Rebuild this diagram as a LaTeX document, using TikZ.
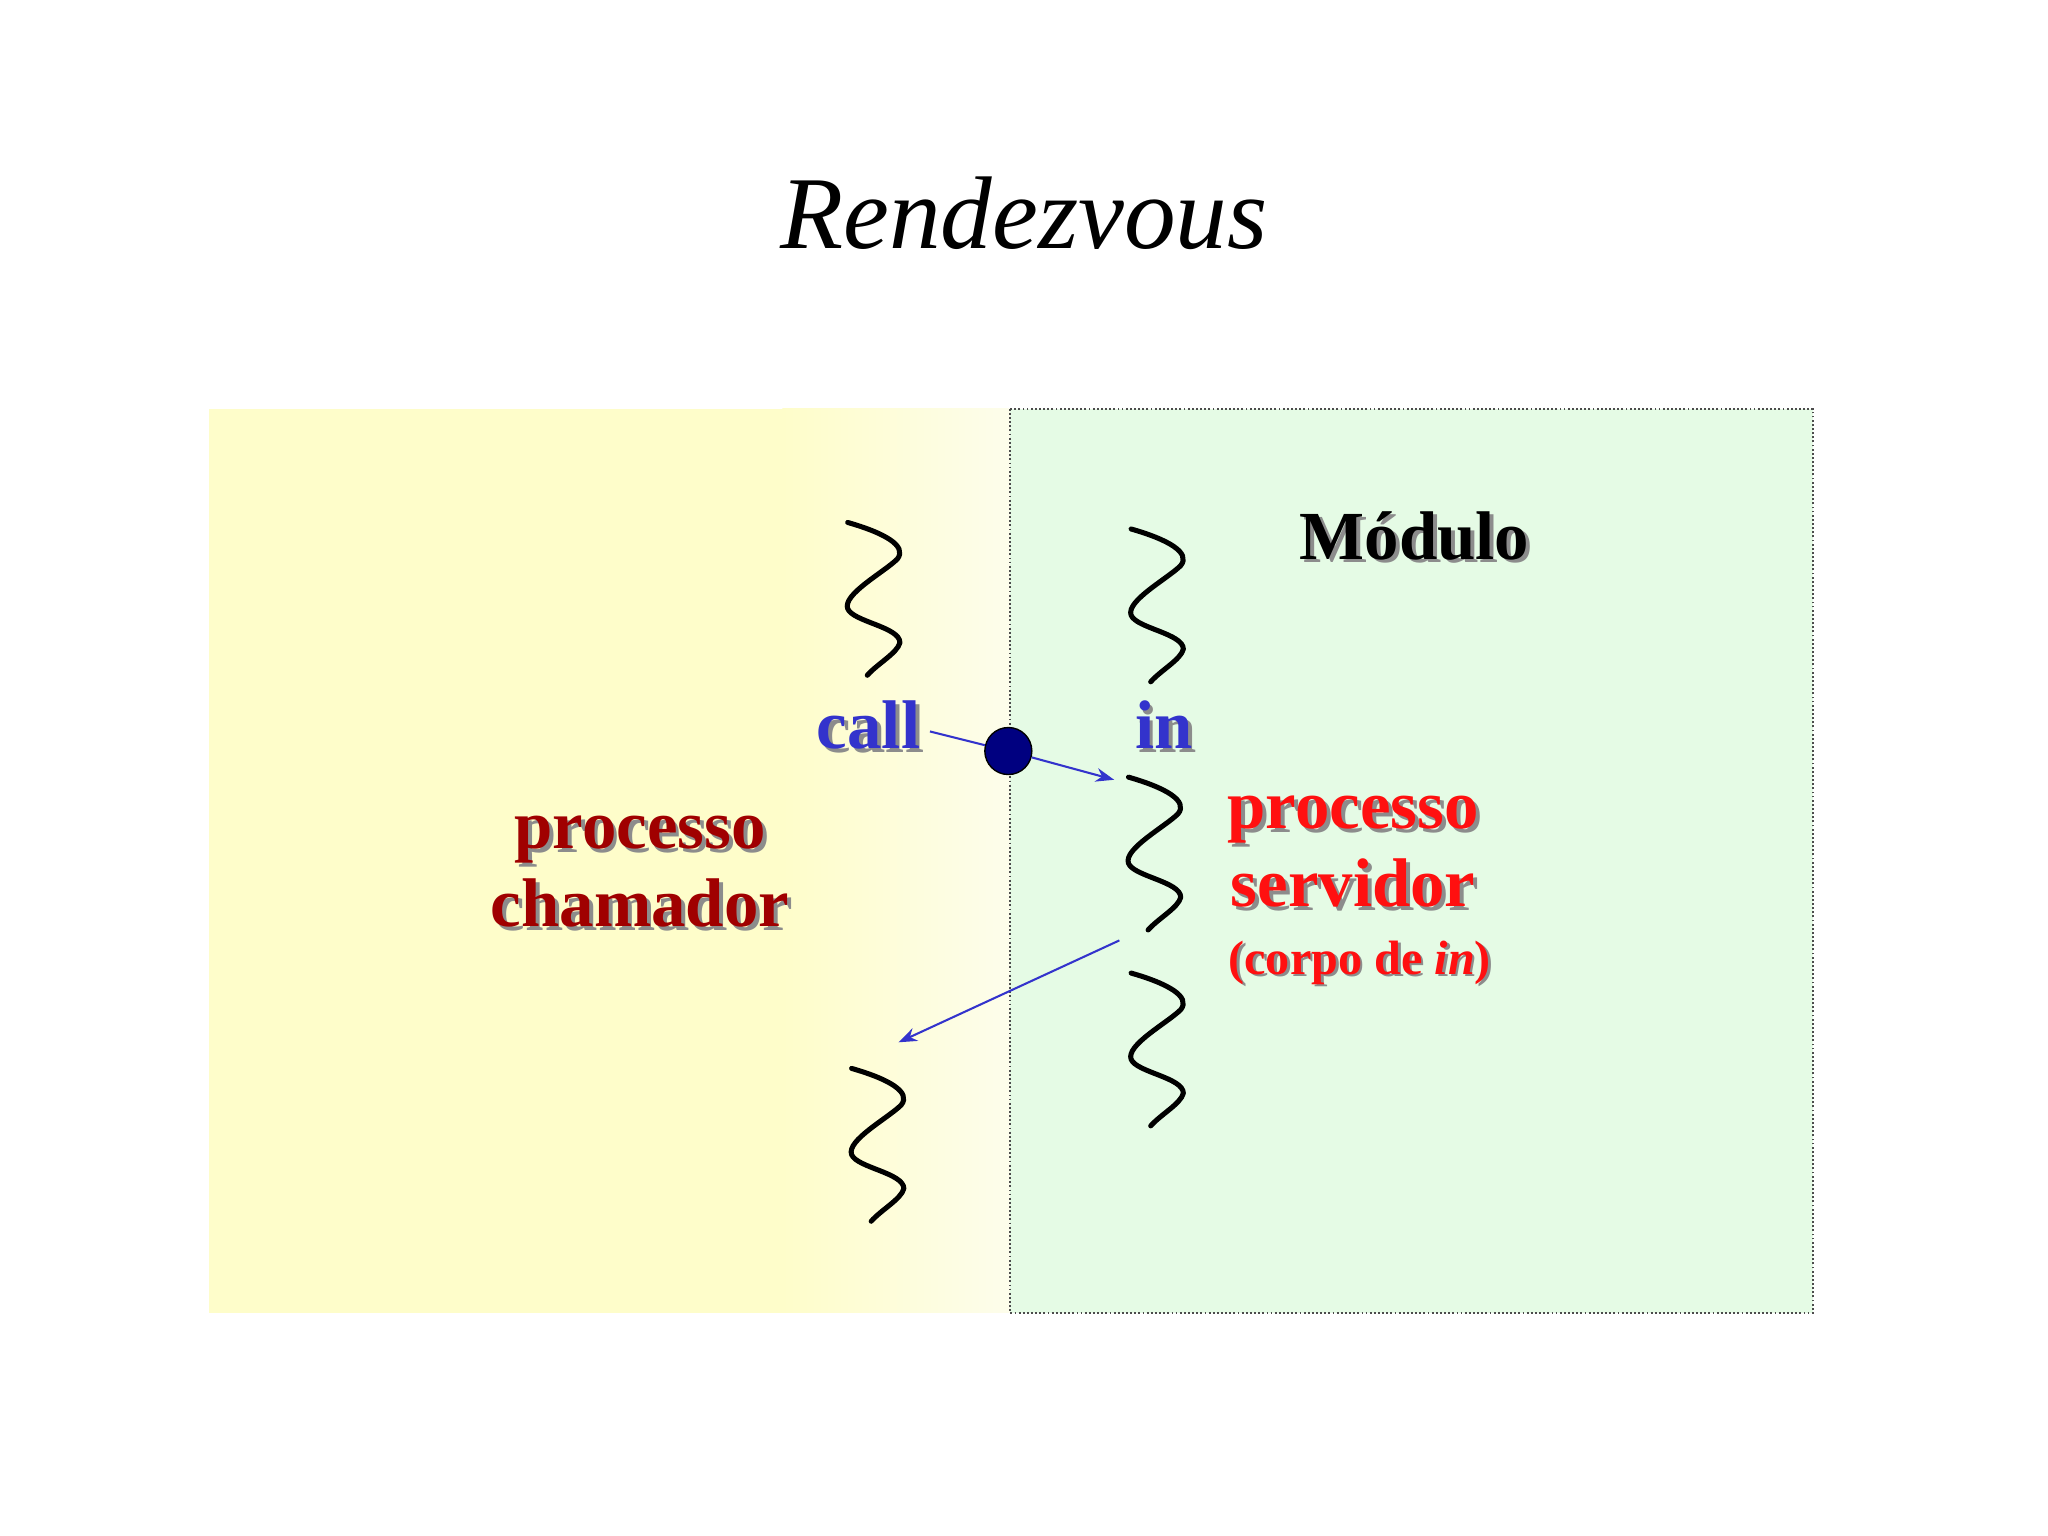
\documentclass[tikz,border=0pt]{standalone}
\usepackage{fontspec}
\setmainfont{Liberation Serif}
\usetikzlibrary{arrows.meta}
\definecolor{yel}{HTML}{FEFDCA}
\definecolor{yel2}{HTML}{FDFDEB}
\definecolor{grn}{HTML}{E5FBE5}
\definecolor{navy}{HTML}{000080}
\definecolor{lblue}{HTML}{3333CC}
\definecolor{dred}{HTML}{A00000}
\definecolor{brred}{HTML}{FF1010}
\tikzset{
  lab/.style={font=\fontsize{30}{34}\selectfont\bfseries, align=center, inner sep=0pt},
  shad/.style={lab, text=black!45},
  conn/.style={draw=lblue, line width=0.9pt, -{Stealth[length=8pt,width=6pt]}},
  squig/.style={line width=2.2pt, line cap=round, line join=round}
}
\newcommand{\squiggle}[2]{%
  \draw[squig] (#1-18,#2) .. controls (#1+10,#2+8) and (#1+28,#2+18) .. (#1+20,#2+28)
    .. controls (#1+10,#2+38) and (#1-22,#2+55) .. (#1-18,#2+66)
    .. controls (#1-14,#2+76) and (#1+22,#2+80) .. (#1+22,#2+92)
    .. controls (#1+20,#2+100) and (#1+5,#2+108) .. (#1-3,#2+117);}
\begin{document}
\begin{tikzpicture}[x=0.02cm,y=-0.02cm]
\useasboundingbox (0,0) rectangle (1568,1176);
\fill[white] (0,0) rectangle (1568,1176);
\node[inner sep=0pt, font=\fontsize{45}{50}\selectfont\itshape] (title) at (784,163) {Rendezvous};
\fill[yel] (160,313) rectangle (600,1005);
\shade[left color=yel, right color=yel2] (599,313) rectangle (773,1005);
\fill[grn] (773,313) rectangle (1388,1005);
\draw[densely dotted, black!70, line width=0.8pt] (773,313) rectangle (1388,1005);
\squiggle{667}{400}
\squiggle{884}{405}
\squiggle{882}{595}
\squiggle{884}{745}
\squiggle{670}{818}
\node[shad] at (668,558) {call};
\node[lab, text=lblue] (call) at (665,555) {call};
\node[shad] at (894,558) {in};
\node[lab, text=lblue] (in) at (891,555) {in};
\node[shad] at (1086,413) {Módulo};
\node[lab, text=black] (mod) at (1083,410) {Módulo};
\node[shad] at (493,670) {processo\\[0pt]chamador};
\node[lab, text=dred] (cham) at (490,667) {processo\\[0pt]chamador};
\node[shad] at (1039,655) {processo\\[0pt]servidor};
\node[lab, text=brred] (serv) at (1036,652) {processo\\[0pt]servidor};
\node[lab, font=\fontsize{21}{24}\selectfont\bfseries, text=black!45] at (1043,739) {(corpo de \textit{in})};
\node[lab, font=\fontsize{21}{24}\selectfont\bfseries, text=brred] (corpo) at (1041,737) {(corpo de \textit{in})};
\node[circle, fill=navy, draw=black, line width=0.6pt, inner sep=0pt, minimum size=0.72cm] (dot) at (772,575) {};
\coordinate (a0) at (712,560);
\coordinate (a1) at (853,597);
\coordinate (b0) at (857,720);
\coordinate (b1) at (688,798);
\draw[draw=lblue, line width=0.9pt] (a0) -- (dot);
\draw[conn] (dot) -- (a1);
\draw[conn] (b0) -- (b1);
\end{tikzpicture}
\end{document}
